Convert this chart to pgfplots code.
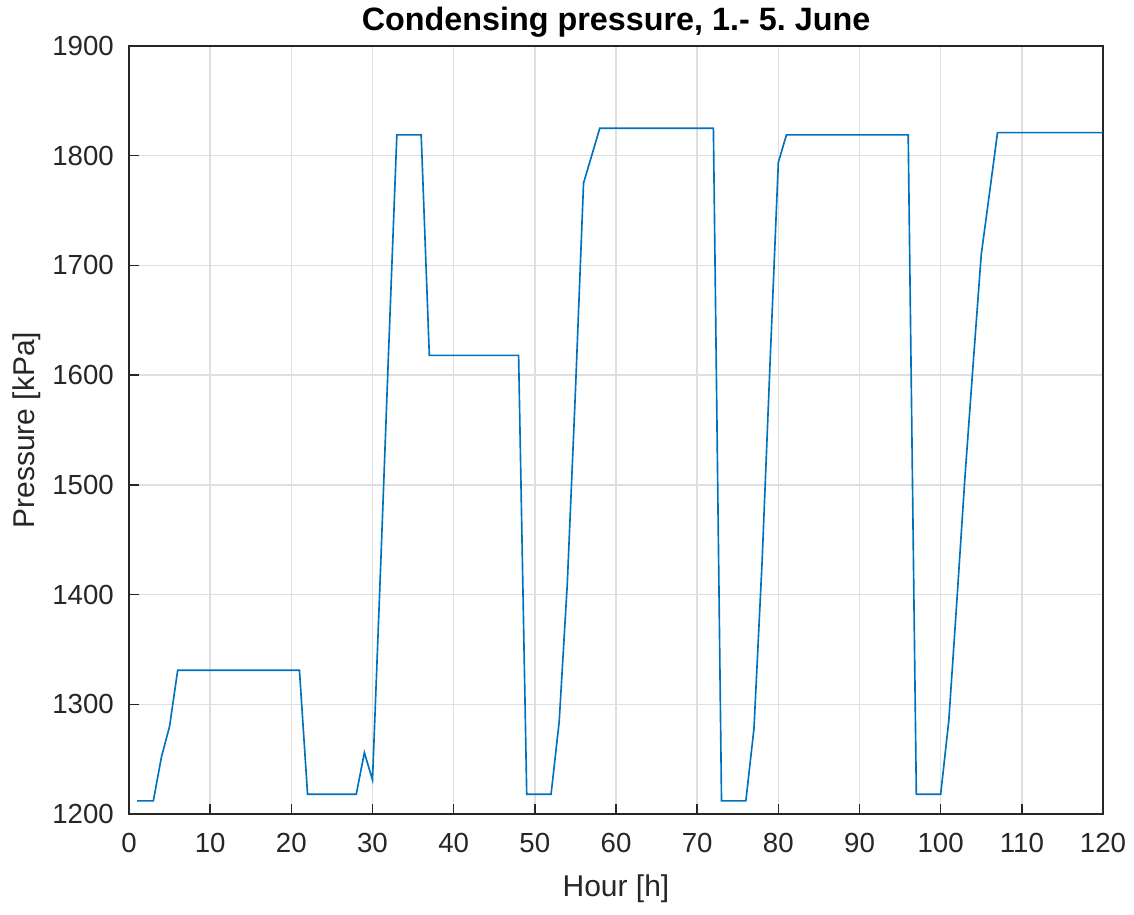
\documentclass[border=0pt]{standalone}
\usepackage{pgfplots}
\pgfplotsset{compat=1.18}
\usepackage{fontspec}
\setmainfont{Liberation Sans}
\frenchspacing
\definecolor{mblue}{RGB}{0,114,189}
\definecolor{mtext}{RGB}{38,38,38}
\definecolor{mgrid}{RGB}{223,223,223}
\begin{document}
\begin{tikzpicture}
\begin{axis}[
    at={(0,0)}, anchor=south west,
    scale only axis,
    width=14.61cm, height=11.52cm,
    xmin=0, xmax=120,
    ymin=1200, ymax=1900,
    xtick={0,10,...,120},
    ytick={1200,1300,...,1900},
    grid=both,
    major grid style={mgrid, line width=0.6pt},
    axis line style={mtext, line width=0.6pt},
    tick style={mtext, line width=0.6pt},
    tick align=inside,
    major tick length=0.15cm,
    xtick pos=bottom, ytick pos=left,
    /pgf/number format/assume math mode=true,
    /pgf/number format/1000 sep={},
    tick label style={font=\fontsize{11.8}{13}\selectfont, text=mtext},
    xticklabel style={anchor=center, yshift=-0.43cm},
    yticklabel style={anchor=east, inner sep=0pt, xshift=-0.22cm},
    xlabel={Hour [h]},
    ylabel={Pressure [kPa]},
    label style={font=\fontsize{12.8}{14}\selectfont, text=mtext},
    xlabel style={at={(axis description cs:0.5,0)}, anchor=center, yshift=-1.12cm},
    ylabel style={at={(axis description cs:0,0.5)}, anchor=center, yshift=1.53cm},
]
\addplot[mblue, line width=0.7pt] coordinates {
    (1,1212) (2,1212) (3,1212) (4,1252) (5,1280) (6,1331) (7,1331) (8,1331)
    (9,1331) (10,1331) (11,1331) (12,1331) (13,1331) (14,1331) (15,1331)
    (16,1331) (17,1331) (18,1331) (19,1331) (20,1331) (21,1331)
    (22,1218) (23,1218) (24,1218) (25,1218) (26,1218) (27,1218) (28,1218)
    (29,1256) (30,1231) (31,1425) (32,1625) (33,1819) (34,1819) (35,1819)
    (36,1819) (37,1618) (38,1618) (39,1618) (40,1618) (41,1618) (42,1618)
    (43,1618) (44,1618) (45,1618) (46,1618) (47,1618) (48,1618)
    (49,1218) (50,1218) (51,1218) (52,1218) (53,1284) (54,1410) (55,1585)
    (56,1775) (57,1800) (58,1825) (59,1825) (60,1825) (61,1825) (62,1825)
    (63,1825) (64,1825) (65,1825) (66,1825) (67,1825) (68,1825) (69,1825)
    (70,1825) (71,1825) (72,1825)
    (73,1212) (74,1212) (75,1212) (76,1212) (77,1278) (78,1430) (79,1615)
    (80,1794) (81,1819) (82,1819) (83,1819) (84,1819) (85,1819) (86,1819)
    (87,1819) (88,1819) (89,1819) (90,1819) (91,1819) (92,1819) (93,1819)
    (94,1819) (95,1819) (96,1819)
    (97,1218) (98,1218) (99,1218) (100,1218) (101,1285) (102,1395)
    (103,1508) (104,1610) (105,1710) (106,1765) (107,1821) (108,1821)
    (109,1821) (110,1821) (111,1821) (112,1821) (113,1821) (114,1821)
    (115,1821) (116,1821) (117,1821) (118,1821) (119,1821) (120,1821)
};
\end{axis}
\node[font=\fontsize{13.8}{15}\selectfont\bfseries, anchor=center] at (7.305cm,12.21cm-0.34cm) {Condensing pressure, 1.- 5. June};
\pgfresetboundingbox
\path (-1.935cm,-1.5cm) rectangle (15.075cm,12.21cm);
\end{tikzpicture}
\end{document}
